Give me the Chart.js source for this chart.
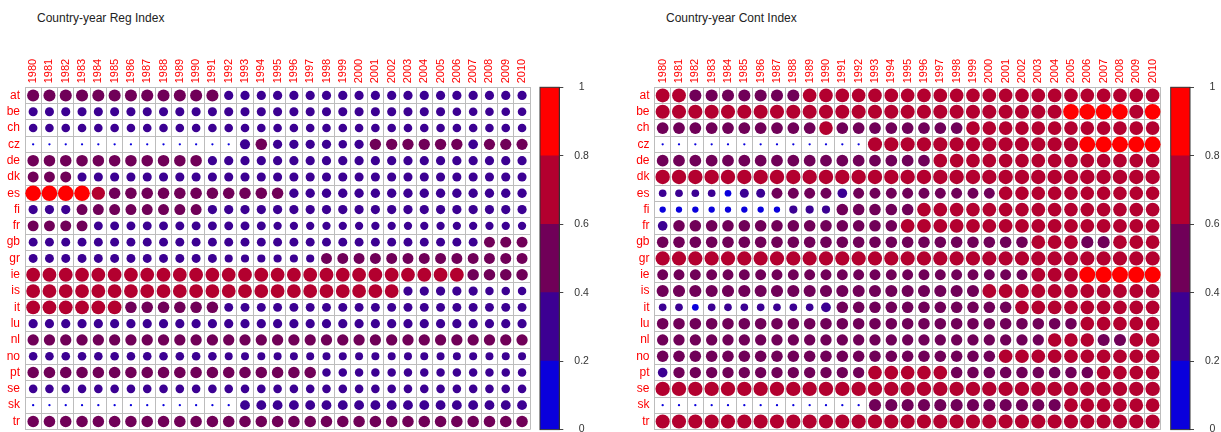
<!DOCTYPE html>
<html>
<head>
<meta charset="utf-8">
<script src="https://cdn.jsdelivr.net/npm/chart.js@4.4.1/dist/chart.umd.min.js"></script>
<style>
  html,body{margin:0;padding:0;background:#fff;overflow:hidden;width:1221px;height:432px;}
  canvas{position:absolute;top:0;}
  .ttl{position:absolute;top:11px;font:12px 'Liberation Sans',Arial,sans-serif;color:#222;}
</style>
</head>
<body>
<div class="ttl" style="left:37px">Country-year Reg Index</div>
<div class="ttl" style="left:666px">Country-year Cont Index</div>
<canvas id="regMat" width="540" height="432" style="left:0"></canvas>
<canvas id="regBar" width="90" height="432" style="left:530px"></canvas>
<canvas id="contMat" width="540" height="432" style="left:630px"></canvas>
<canvas id="contBar" width="61" height="432" style="left:1160px"></canvas>
<script>
'use strict';

const countries = ['at','be','ch','cz','de','dk','es','fi','fr','gb','gr','ie','is','it','lu','nl','no','pt','se','sk','tr'];
const years = ['1980','1981','1982','1983','1984','1985','1986','1987','1988','1989',
               '1990','1991','1992','1993','1994','1995','1996','1997','1998','1999',
               '2000','2001','2002','2003','2004','2005','2006','2007','2008','2009','2010'];
const binEdges = [0, 0.2, 0.4, 0.6, 0.8, 1];
const binColors = ['#0A00DC','#3C0092','#700058','#B3002F','#FF0000'];

// rows = countries, columns = 1980..2010
const regIndex = [
  [.55,.55,.55,.55,.55,.55,.55,.55,.55,.55, .55,.55,.32,.32,.32,.32,.32,.32,.32,.32, .32,.32,.32,.32,.32,.32,.32,.32,.32,.32,.32],
  [.31,.31,.31,.31,.31,.31,.31,.31,.31,.31, .31,.31,.31,.31,.31,.31,.31,.31,.31,.31, .31,.31,.31,.31,.31,.31,.28,.28,.28,.28,.28],
  [.28,.28,.28,.28,.28,.28,.28,.28,.28,.28, .28,.28,.28,.28,.28,.28,.28,.28,.28,.28, .28,.28,.28,.28,.28,.28,.28,.28,.28,.28,.28],
  [.02,.02,.02,.02,.02,.02,.02,.02,.02,.02, .02,.02,.02,.38,.50,.32,.32,.32,.32,.27, .32,.48,.48,.48,.48,.48,.48,.35,.47,.47,.47],
  [.50,.50,.50,.50,.50,.50,.50,.50,.50,.50, .50,.32,.32,.32,.32,.32,.32,.32,.32,.32, .32,.32,.32,.32,.32,.32,.32,.32,.32,.32,.32],
  [.45,.45,.45,.31,.31,.31,.31,.31,.31,.31, .31,.31,.31,.31,.31,.31,.31,.31,.31,.31, .31,.31,.31,.31,.31,.31,.31,.31,.31,.31,.31],
  [.92,.92,.92,.92,.66,.50,.50,.50,.50,.50, .50,.50,.50,.50,.50,.50,.33,.33,.33,.33, .33,.33,.33,.33,.33,.33,.33,.33,.33,.33,.33],
  [.32,.32,.32,.45,.45,.45,.45,.45,.45,.45, .45,.32,.32,.32,.32,.32,.32,.32,.32,.32, .32,.32,.32,.32,.32,.32,.32,.32,.32,.32,.32],
  [.45,.45,.45,.45,.30,.30,.30,.30,.30,.30, .30,.30,.30,.30,.30,.26,.26,.26,.26,.26, .26,.26,.26,.26,.26,.26,.26,.26,.26,.26,.26],
  [.30,.30,.30,.30,.30,.30,.30,.30,.30,.30, .30,.30,.30,.30,.30,.30,.30,.30,.30,.30, .30,.30,.30,.30,.30,.30,.30,.30,.45,.45,.45],
  [.30,.30,.30,.30,.30,.30,.30,.30,.30,.30, .30,.30,.25,.25,.25,.25,.25,.25,.45,.45, .45,.45,.45,.45,.45,.45,.45,.45,.45,.45,.45],
  [.72,.72,.72,.72,.72,.72,.72,.72,.72,.72, .72,.72,.72,.72,.72,.72,.72,.72,.72,.72, .72,.72,.72,.72,.72,.72,.72,.50,.50,.50,.50],
  [.72,.72,.72,.72,.72,.72,.72,.72,.72,.72, .72,.72,.72,.72,.72,.72,.72,.72,.72,.72, .72,.72,.72,.32,.32,.32,.32,.32,.27,.27,.27],
  [.72,.72,.72,.72,.72,.72,.50,.50,.50,.50, .50,.50,.30,.30,.30,.30,.30,.30,.30,.30, .30,.30,.30,.30,.30,.30,.30,.30,.30,.30,.30],
  [.32,.32,.32,.32,.32,.32,.32,.32,.32,.32, .32,.32,.32,.32,.32,.32,.32,.32,.32,.32, .32,.32,.32,.32,.32,.32,.32,.32,.32,.32,.32],
  [.48,.48,.48,.48,.48,.48,.48,.48,.48,.48, .48,.48,.48,.48,.48,.48,.48,.48,.48,.48, .48,.48,.48,.48,.48,.48,.48,.48,.48,.48,.48],
  [.28,.28,.28,.28,.28,.28,.28,.28,.28,.28, .28,.28,.24,.24,.24,.24,.24,.24,.24,.24, .24,.24,.24,.24,.24,.24,.24,.24,.24,.24,.24],
  [.50,.50,.50,.50,.50,.50,.50,.50,.50,.50, .50,.50,.50,.50,.50,.50,.50,.50,.27,.27, .27,.27,.27,.27,.27,.27,.27,.27,.27,.27,.27],
  [.28,.28,.28,.28,.28,.28,.28,.28,.28,.28, .28,.28,.28,.28,.28,.28,.28,.28,.28,.28, .28,.28,.28,.28,.28,.28,.28,.28,.28,.28,.28],
  [.02,.02,.02,.02,.02,.02,.02,.02,.02,.02, .02,.02,.02,.36,.36,.36,.36,.36,.36,.36, .36,.36,.36,.36,.36,.36,.36,.36,.36,.36,.36],
  [.50,.50,.50,.50,.50,.50,.50,.50,.50,.50, .50,.50,.50,.50,.50,.50,.50,.50,.50,.50, .50,.50,.50,.50,.50,.50,.50,.50,.50,.50,.50]
];

const contIndex = [
  [.72,.72,.55,.55,.55,.55,.55,.55,.55,.70, .70,.70,.70,.70,.70,.70,.70,.70,.70,.70, .70,.70,.70,.70,.70,.70,.70,.70,.70,.70,.70],
  [.75,.75,.75,.75,.75,.75,.75,.75,.75,.75, .75,.75,.75,.75,.75,.75,.75,.75,.75,.75, .75,.75,.75,.75,.75,.92,.92,.92,.92,.75,.92],
  [.52,.52,.52,.52,.52,.52,.52,.52,.52,.52, .70,.52,.52,.52,.52,.52,.52,.52,.52,.70, .70,.70,.70,.70,.70,.70,.70,.70,.70,.70,.70],
  [.02,.02,.02,.02,.02,.02,.02,.02,.02,.02, .02,.02,.02,.75,.75,.75,.75,.75,.75,.75, .75,.75,.75,.75,.75,.75,.95,.95,.95,.95,.95],
  [.52,.52,.52,.52,.52,.52,.52,.52,.52,.52, .52,.52,.52,.52,.52,.52,.52,.70,.70,.70, .70,.70,.70,.70,.70,.70,.70,.70,.70,.70,.70],
  [.78,.78,.78,.78,.78,.78,.78,.78,.78,.78, .78,.78,.78,.78,.78,.78,.78,.78,.78,.78, .78,.78,.78,.78,.78,.78,.78,.78,.78,.78,.78],
  [.22,.22,.22,.22,.17,.30,.30,.45,.45,.45, .45,.35,.45,.45,.45,.45,.45,.45,.45,.45, .45,.68,.68,.68,.68,.68,.68,.68,.68,.68,.68],
  [.15,.15,.15,.15,.15,.15,.15,.15,.25,.25, .25,.50,.50,.50,.50,.50,.70,.70,.70,.70, .70,.70,.70,.70,.70,.70,.70,.70,.70,.70,.70],
  [.35,.50,.50,.50,.50,.50,.50,.50,.50,.50, .50,.50,.50,.50,.50,.72,.72,.72,.72,.72, .72,.72,.72,.72,.72,.72,.72,.72,.72,.72,.72],
  [.50,.50,.50,.50,.50,.50,.50,.50,.50,.50, .50,.50,.50,.50,.50,.50,.50,.50,.50,.50, .50,.50,.50,.70,.70,.70,.55,.55,.70,.70,.70],
  [.76,.76,.76,.76,.76,.76,.76,.76,.76,.76, .76,.76,.76,.76,.76,.76,.76,.76,.76,.76, .76,.76,.76,.76,.76,.76,.76,.76,.76,.76,.76],
  [.45,.45,.45,.45,.45,.45,.45,.45,.45,.45, .45,.45,.45,.45,.45,.45,.45,.45,.45,.45, .45,.45,.45,.72,.72,.72,.95,.95,.95,.95,.95],
  [.55,.55,.55,.55,.55,.55,.55,.55,.55,.55, .55,.55,.55,.55,.55,.55,.55,.55,.55,.55, .72,.72,.72,.72,.72,.72,.72,.72,.72,.72,.72],
  [.22,.22,.17,.22,.22,.22,.22,.22,.22,.22, .36,.50,.50,.50,.50,.50,.50,.50,.50,.50, .50,.50,.70,.70,.70,.70,.70,.70,.70,.70,.70],
  [.50,.50,.50,.50,.50,.50,.50,.50,.50,.50, .50,.50,.50,.50,.50,.50,.50,.50,.50,.50, .50,.50,.50,.50,.50,.50,.70,.70,.70,.70,.70],
  [.48,.48,.48,.48,.48,.48,.48,.48,.48,.48, .48,.48,.48,.48,.48,.48,.48,.48,.48,.48, .48,.48,.48,.48,.68,.68,.68,.55,.55,.70,.70],
  [.50,.50,.50,.50,.50,.50,.50,.50,.50,.50, .50,.50,.50,.50,.50,.50,.50,.50,.50,.50, .50,.70,.70,.70,.70,.70,.70,.70,.70,.70,.70],
  [.35,.48,.48,.48,.48,.48,.48,.48,.48,.48, .48,.48,.48,.70,.70,.70,.70,.70,.50,.50, .50,.50,.50,.50,.50,.50,.50,.70,.70,.70,.70],
  [.78,.78,.78,.78,.78,.78,.78,.78,.78,.78, .78,.78,.78,.78,.78,.78,.78,.78,.78,.78, .78,.78,.78,.78,.78,.78,.78,.78,.78,.78,.78],
  [.02,.02,.02,.02,.02,.02,.02,.02,.02,.02, .02,.02,.02,.55,.55,.55,.55,.55,.55,.55, .55,.55,.55,.55,.55,.70,.70,.70,.70,.70,.70],
  [.75,.75,.75,.75,.75,.75,.75,.75,.75,.75, .75,.75,.75,.75,.75,.75,.75,.75,.75,.75, .75,.75,.75,.75,.75,.75,.75,.75,.75,.75,.75]
];

Chart.defaults.font.family = "'Liberation Sans', Arial, sans-serif";
Chart.defaults.font.size = 11;

const gridCol = '#BDBDBD';

function colorOf(v) {
  for (let k = 0; k < binColors.length; k++) {
    if (v < binEdges[k + 1]) return binColors[k];
  }
  return binColors[binColors.length - 1];
}

function matrixChart(id, values, yWidth, padRight) {
  const pts = [];
  values.forEach((row, i) => row.forEach((v, j) => pts.push({x: years[j], y: countries[i], v: v})));
  return new Chart(document.getElementById(id), {
    type: 'scatter',
    data: {datasets: [{
      data: pts,
      pointBorderWidth: 0,
      pointBackgroundColor: c => c.raw ? colorOf(c.raw.v) : '#000',
      pointRadius: c => {
        if (!c.raw) return 0;
        const cell = c.chart.scales.x.width / years.length;
        return Math.sqrt(c.raw.v) * cell * 0.5;
      }
    }]},
    options: {
      responsive: false, animation: false, events: [],
      layout: {padding: {left: 0, right: padRight, top: 0, bottom: 2.4}},
      plugins: {legend: {display: false}, tooltip: {enabled: false}},
      scales: {
        x: {type: 'category', labels: years, position: 'top', offset: true,
            grid: {offset: true, color: gridCol, drawTicks: false},
            border: {color: gridCol},
            ticks: {autoSkip: false, minRotation: 90, maxRotation: 90, color: '#FF0000', padding: 4, labelOffset: 13.2},
            afterFit: s => { s.height = 87.3; s.paddingLeft = 0; s.paddingRight = 0; }},
        y: {type: 'category', labels: countries, offset: true,
            grid: {offset: true, color: gridCol, drawTicks: false},
            border: {color: gridCol},
            ticks: {autoSkip: false, color: '#FF0000', padding: 5, font: {size: 12}},
            afterFit: s => { s.width = yWidth; s.paddingTop = 0; s.paddingBottom = 0; }}
      }
    }
  });
}

const barFrame = {
  id: 'barFrame',
  afterDatasetsDraw(chart) {
    const a = chart.chartArea, ctx = chart.ctx;
    ctx.save();
    ctx.strokeStyle = '#333';
    ctx.lineWidth = 1;
    ctx.strokeRect(a.left, a.top, a.right - a.left, a.bottom - a.top);
    ctx.restore();
  }
};

function colorBar(id, padLeft, axisWidth) {
  return new Chart(document.getElementById(id), {
    type: 'bar',
    data: {labels: [''], datasets: binColors.map((c, k) => ({
      data: [[binEdges[k], binEdges[k + 1]]],
      backgroundColor: c, borderWidth: 0, barPercentage: 1, categoryPercentage: 1
    }))},
    options: {
      responsive: false, animation: false, events: [],
      layout: {padding: {left: padLeft, right: 0, top: 87.3, bottom: 2.4}},
      plugins: {legend: {display: false}, tooltip: {enabled: false}},
      scales: {
        x: {display: false, stacked: true},
        y: {position: 'right', min: 0, max: 1, stacked: false,
            ticks: {stepSize: 0.2, color: '#333', padding: 11, crossAlign: 'center', font: {size: 10.5},
                    callback: v => String(+v.toFixed(1))},
            grid: {drawOnChartArea: false, tickLength: 4, color: '#444'},
            border: {color: '#333'},
            afterFit: s => { s.width = axisWidth; s.paddingTop = 0; s.paddingBottom = 0; }}
      }
    },
    plugins: [barFrame]
  });
}

matrixChart('regMat', regIndex, 25, 9.8);
colorBar('regBar', 10, 60.7);
matrixChart('contMat', contIndex, 24.5, 9.2);
colorBar('contBar', 10.7, 31);
</script>
</body>
</html>
